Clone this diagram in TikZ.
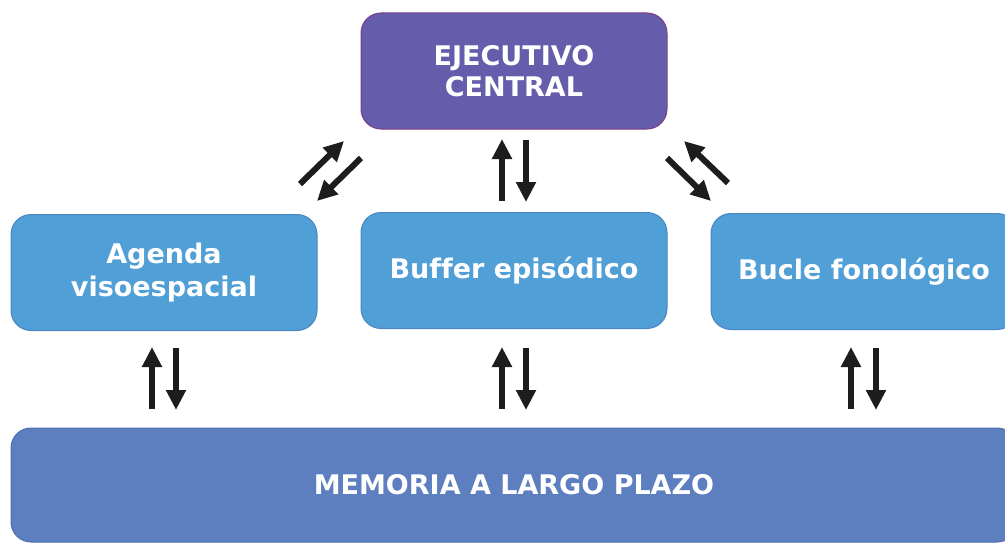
\documentclass[tikz,border=0pt]{standalone}
\usepackage{fontspec}
\setmainfont{DejaVu Sans}[Ligatures=NoCommon]
\usetikzlibrary{arrows.meta}
\definecolor{purplefill}{HTML}{655DAB}
\definecolor{purpleline}{HTML}{7A3D86}
\definecolor{bluefill}{HTML}{519FD7}
\definecolor{blueline}{HTML}{4A86BF}
\definecolor{memfill}{HTML}{5E7FBF}
\definecolor{memline}{HTML}{4E6FAE}
\definecolor{arrowcol}{HTML}{1E1C1D}
\tikzset{
  box/.style={rounded corners=20pt, line width=1pt, minimum width=306pt, minimum height=116pt,
    text=white, align=center, font=\fontsize{27}{33}\selectfont\bfseries, inner sep=0pt},
  execbox/.style={box, fill=purplefill, draw=purpleline},
  compbox/.style={box, fill=bluefill, draw=blueline},
  membox/.style={box, fill=memfill, draw=memline, minimum width=1006pt, minimum height=114pt},
  flow/.style={draw=arrowcol, line width=6pt, -{Triangle[length=20pt,width=19pt]}}
}
\begin{document}
\begin{tikzpicture}[x=1pt,y=-1pt]
\useasboundingbox (0,0) rectangle (1005,543);
\clip (0,0) rectangle (1005,543);
\fill[white] (0,0) rectangle (1005,543);
\node[execbox] (ec) at (514,71) {\raisebox{-1.5pt}{EJECUTIVO}\\CENTRAL};
\node[compbox] (av) at (164,272.5) {Agenda\\visoespacial};
\node[compbox] (be) at (514,270.5) {Buffer episódico};
\node[compbox] (bf) at (864,271.5) {Bucle fonológico};
\node[membox] (lp) at (514,485) {\raisebox{-3pt}{MEMORIA A LARGO PLAZO}};
% upper arrows
\coordinate (a1s) at (300,184); \coordinate (a1e) at (344,141);
\coordinate (a2s) at (361,158); \coordinate (a2e) at (317,201);
\coordinate (b1s) at (502,201); \coordinate (b1e) at (502,139);
\coordinate (b2s) at (526,140); \coordinate (b2e) at (526,202);
\coordinate (c1s) at (667,158); \coordinate (c1e) at (711,201);
\coordinate (c2s) at (728,183); \coordinate (c2e) at (684,141);
\draw[flow] (a1s) -- (a1e);
\draw[flow] (a2s) -- (a2e);
\draw[flow] (b1s) -- (b1e);
\draw[flow] (b2s) -- (b2e);
\draw[flow] (c1s) -- (c1e);
\draw[flow] (c2s) -- (c2e);
% lower arrows
\coordinate (d1s) at (152,409); \coordinate (d1e) at (152,347);
\coordinate (d2s) at (176,348); \coordinate (d2e) at (176,410);
\coordinate (e1s) at (502,409); \coordinate (e1e) at (502,347);
\coordinate (e2s) at (526,348); \coordinate (e2e) at (526,410);
\coordinate (f1s) at (851,409); \coordinate (f1e) at (851,347);
\coordinate (f2s) at (876,348); \coordinate (f2e) at (876,410);
\draw[flow] (d1s) -- (d1e);
\draw[flow] (d2s) -- (d2e);
\draw[flow] (e1s) -- (e1e);
\draw[flow] (e2s) -- (e2e);
\draw[flow] (f1s) -- (f1e);
\draw[flow] (f2s) -- (f2e);
\end{tikzpicture}
\end{document}
